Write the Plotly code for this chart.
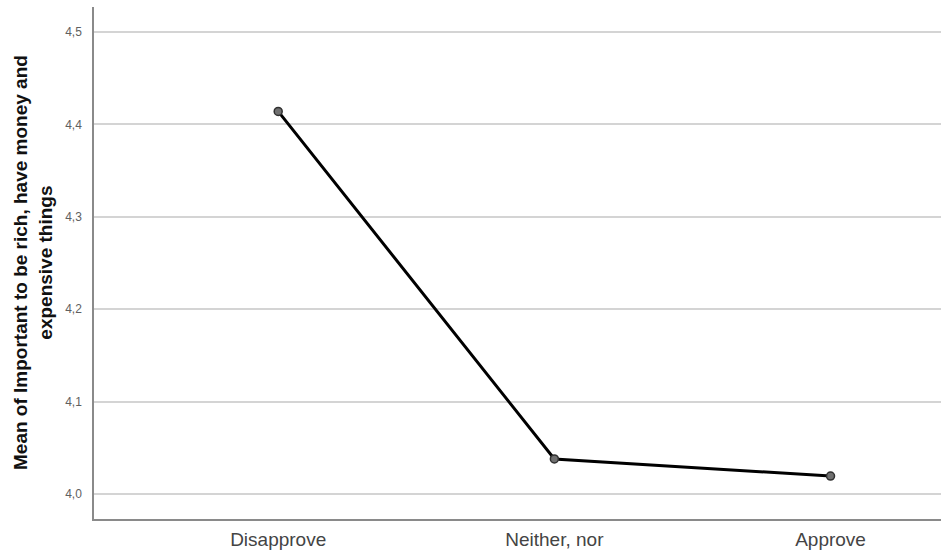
import plotly.graph_objects as go

categories = ["Disapprove", "Neither, nor", "Approve"]
means = [4.414, 4.038, 4.0195]
y_ticks = [4.0, 4.1, 4.2, 4.3, 4.4, 4.5]

fig = go.Figure()
fig.add_trace(go.Scatter(
    x=list(range(len(categories))), y=means, mode="lines+markers",
    line=dict(color="#000000", width=3),
    marker=dict(size=8, color="#707070", line=dict(color="#303030", width=1.5)),
    showlegend=False, hoverinfo="skip"))

fig.update_layout(
    width=941, height=556,
    margin=dict(l=94, r=0, t=7, b=37),
    paper_bgcolor="white", plot_bgcolor="white",
    separators=",.",
    font=dict(family="Arial, Liberation Sans, sans-serif"),
    xaxis=dict(
        range=[-0.667, 2.4], tickmode="array",
        tickvals=list(range(len(categories))), ticktext=categories,
        showgrid=False, zeroline=False,
        showline=True, linecolor="#8a8a8a", linewidth=1.5,
        ticks="", ticklabelstandoff=2, tickfont=dict(size=19, color="#444444")),
    yaxis=dict(
        range=[3.973, 4.527], tickmode="array", tickvals=y_ticks,
        tickformat=".1f", showgrid=True, gridcolor="#d4d4d4", gridwidth=1.5,
        zeroline=False, showline=True, linecolor="#8a8a8a", linewidth=1.5,
        ticks="", ticklen=0, ticklabelstandoff=8,
        tickfont=dict(size=12, color="#606060")),
    annotations=[dict(
        text="<b>Mean of Important to be rich, have money and<br>expensive things</b>",
        textangle=-90, xref="paper", yref="paper", x=0, xshift=-61, y=0.5,
        xanchor="center", yanchor="middle", showarrow=False,
        font=dict(size=19, color="#111111"), align="center")]
)

fig.write_html("out.html", config={"displayModeBar": False},
               post_script="document.body.style.margin='0';")
